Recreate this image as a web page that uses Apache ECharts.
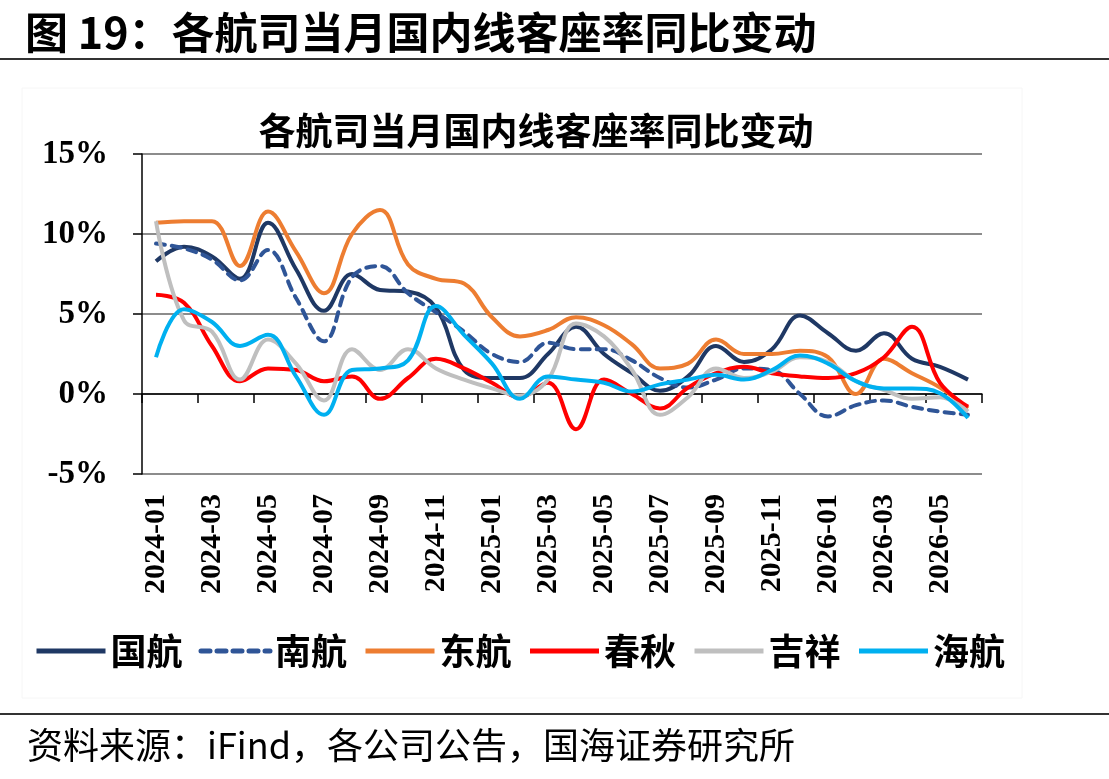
<!DOCTYPE html>
<html>
<head>
<meta charset="utf-8">
<script src="https://cdn.jsdelivr.net/npm/echarts@6/dist/echarts.min.js"></script>
<style>
html,body{margin:0;padding:0;background:#fff;}
#c{width:1109px;height:779px;}
</style>
</head>
<body>
<div id="c"></div>
<script>
const months = ['2024-01','2024-02','2024-03','2024-04','2024-05','2024-06','2024-07','2024-08','2024-09','2024-10','2024-11','2024-12',
'2025-01','2025-02','2025-03','2025-04','2025-05','2025-06','2025-07','2025-08','2025-09','2025-10','2025-11','2025-12',
'2026-01','2026-02','2026-03','2026-04','2026-05','2026-06'];
const yTicks = [-5, 0, 5, 10, 15];
const seriesNames = ['国航','南航','东航','春秋','吉祥','海航'];
const airChina = [8.3,9.2,8.6,7.2,10.7,7.8,5.2,7.5,6.5,6.4,5.4,1.5,1.0,1.0,2.5,4.2,2.5,1.3,0.2,1.1,3.0,2.0,2.8,4.9,3.8,2.7,3.8,2.2,1.7,0.9];
const chinaSouthern = [9.4,9.1,8.4,7.1,9.0,6.0,3.3,7.3,8.0,6.3,5.1,3.9,2.5,2.0,3.2,2.8,2.8,2.1,1.0,0.4,0.9,1.6,1.5,0.0,-1.4,-0.7,-0.4,-0.8,-1.1,-1.3];
const chinaEastern = [10.7,10.8,10.8,8.0,11.4,8.9,6.3,10.0,11.5,8.1,7.2,6.9,4.8,3.6,4.0,4.8,4.3,3.1,1.6,1.9,3.4,2.5,2.5,2.7,2.3,0.0,2.2,1.3,0.4,-0.9];
const springAir = [6.2,5.7,3.0,0.8,1.6,1.5,0.8,1.1,-0.3,1.0,2.2,1.6,0.7,-0.2,0.7,-2.2,0.9,0.0,-0.9,0.4,1.3,1.7,1.3,1.1,1.0,1.3,2.3,4.2,0.7,-0.8];
const juneyao = [10.8,4.6,3.9,0.9,3.4,1.9,-0.4,2.8,1.5,2.8,1.6,0.9,0.35,-0.1,0.9,4.4,3.6,1.5,-1.3,-0.2,1.6,1.0,1.4,2.3,2.0,0.8,0.25,-0.3,-0.2,-1.1];
const hainan = [2.3,5.3,4.5,3.0,3.7,1.1,-1.3,1.5,1.6,2.1,5.5,3.7,1.9,-0.3,1.1,0.9,0.7,0.15,0.6,0.9,1.2,0.9,1.5,2.4,1.9,0.8,0.35,0.35,0.05,-1.5];

const allData = [airChina, chinaSouthern, chinaEastern, springAir, juneyao, hainan];
const colors = ['#1F3864','#2F5597','#ED7D31','#FF0000','#BFBFBF','#00B0F0'];

const chart = echarts.init(document.getElementById('c'));
const serif = '"Liberation Serif","Times New Roman",serif';
const cjk = '"Noto Sans CJK SC","Noto Sans",sans-serif';

const series = seriesNames.map((n, i) => ({
  name: n,
  type: 'line',
  xAxisIndex: 0,
  yAxisIndex: 0,
  data: allData[i],
  smooth: 0.4,
  symbol: 'none',
  showSymbol: false,
  lineStyle: {
    color: colors[i],
    width: 4,
    type: i === 1 ? [9, 7] : 'solid',
    cap: i === 1 ? 'round' : 'butt'
  },
  itemStyle: {color: colors[i]},
  z: 3 + i
}));

chart.setOption({
  animation: false,
  backgroundColor: '#fff',
  title: [
    {
      text: '图 19：各航司当月国内线客座率同比变动',
      left: 20, top: 6,
      textStyle: {fontFamily: cjk, fontSize: 43, fontWeight: 'bold', color: '#000'}
    },
    {
      text: '各航司当月国内线客座率同比变动',
      left: 531, top: 107, textAlign: 'center',
      textStyle: {fontFamily: cjk, fontSize: 37, fontWeight: 'bold', color: '#000'}
    },
    {
      text: '资料来源：iFind，各公司公告，国海证券研究所',
      left: 22, top: 722,
      textStyle: {fontFamily: cjk, fontSize: 36, fontWeight: 'normal', color: '#000'}
    }
  ],
  graphic: [
    {type: 'line', shape: {x1: 0, y1: 59, x2: 1109, y2: 59}, style: {stroke: '#333', lineWidth: 2}},
    {type: 'line', shape: {x1: 0, y1: 714, x2: 1109, y2: 714}, style: {stroke: '#333', lineWidth: 2}},
    {type: 'rect', shape: {x: 22, y: 88, width: 1000, height: 610}, style: {fill: 'none', stroke: '#f6f6f6', lineWidth: 1}, z: -1}
  ],
  legend: {
    left: 29, top: 626,
    itemWidth: 69, itemHeight: 5, itemGap: 16,
    data: seriesNames,
    itemStyle: {opacity: 0},
    lineStyle: {width: 5},
    textStyle: {fontFamily: cjk, fontSize: 36, fontWeight: 'bold', color: '#000', lineHeight: 40}
  },
  grid: {left: 142, top: 154, right: 127, bottom: 305},
  xAxis: [
    {
      type: 'category', data: months, boundaryGap: true, position: 'bottom',
      axisLine: {show: false, onZero: false},
      axisTick: {show: false},
      splitLine: {show: false},
      axisLabel: {interval: 1, rotate: 90, margin: 20, fontFamily: serif, fontSize: 30, fontWeight: 'bold', color: '#000'}
    },
    {
      type: 'category', data: months, boundaryGap: true, position: 'bottom',
      axisLine: {show: true, onZero: true, lineStyle: {color: '#000', width: 1.5}},
      axisTick: {show: true, interval: 1, length: 9, lineStyle: {color: '#000', width: 1.5}},
      axisLabel: {show: false},
      splitLine: {show: false}
    }
  ],
  yAxis: {
    type: 'value', min: yTicks[0], max: yTicks[yTicks.length - 1], interval: 5,
    axisLine: {show: true, lineStyle: {color: '#000', width: 1.5}},
    axisTick: {show: true, length: 9, lineStyle: {color: '#000', width: 1.5}},
    splitLine: {show: true, lineStyle: {color: '#8c8c8c', width: 2}},
    axisLabel: {formatter: '{value}%', margin: 34, fontFamily: serif, fontSize: 33, fontWeight: 'bold', color: '#000'}
  },
  series: series
});
</script>
</body>
</html>
